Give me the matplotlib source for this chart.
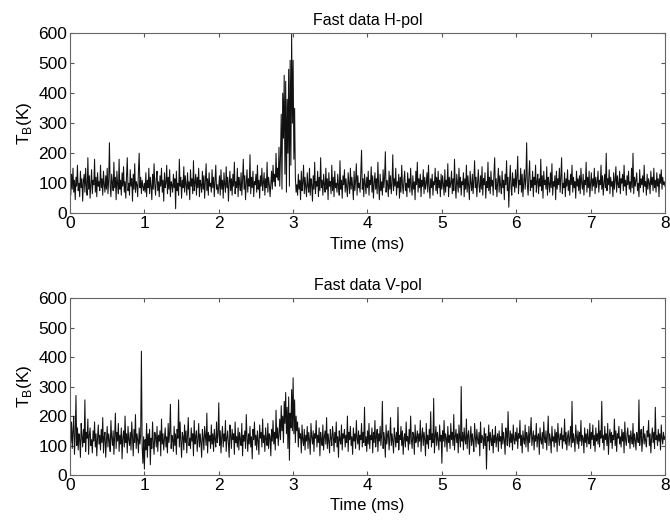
import matplotlib
matplotlib.use("Agg")
import matplotlib.pyplot as plt
import numpy as np

plt.rcParams["font.family"] = ["Liberation Sans", "DejaVu Sans"]
plt.rcParams["font.size"] = 10

# H-pol brightness temperature (K), one block per ms, 0.01 ms steps
h0 = [95, 60, 130, 80, 150, 70, 110, 45, 120, 90,
      160, 75, 100, 55, 140, 85, 115, 40, 105, 130,
      70, 150, 90, 60, 185, 80, 125, 50, 100, 145,
      65, 110, 95, 180, 70, 120, 55, 135, 90, 105,
      75, 160, 85, 115, 60, 140, 95, 70, 125, 80,
      150, 65, 110, 235, 90, 55, 130, 100, 75, 170,
      85, 120, 45, 140, 95, 65, 180, 80, 110, 60,
      135, 90, 155, 70, 105, 50, 125, 185, 75, 100,
      60, 145, 90, 115, 40, 130, 80, 165, 70, 105,
      95, 55, 140, 200, 85, 120, 65, 110, 90, 75]
h1 = [100, 70, 135, 55, 110, 85, 150, 65, 120, 90,
      45, 130, 80, 165, 95, 60, 115, 140, 75, 105,
      55, 125, 90, 150, 70, 110, 40, 135, 85, 100,
      160, 65, 120, 80, 145, 55, 105, 95, 70, 130,
      85, 115, 15, 140, 75, 100, 60, 180, 90, 120,
      50, 110, 85, 155, 70, 125, 95, 60, 135, 80,
      105, 45, 145, 90, 115, 65, 175, 75, 100, 130,
      60, 120, 85, 150, 55, 110, 95, 70, 140, 80,
      125, 50, 105, 165, 75, 115, 60, 135, 90, 100,
      70, 145, 85, 120, 55, 110, 160, 80, 95, 65]
h2 = [90, 125, 60, 145, 80, 110, 50, 135, 95, 70,
      155, 85, 120, 40, 100, 140, 75, 115, 60, 130,
      90, 170, 65, 105, 85, 150, 55, 120, 95, 75,
      135, 60, 110, 180, 80, 125, 45, 100, 145, 70,
      115, 90, 195, 65, 120, 85, 140, 55, 105, 95,
      130, 70, 160, 80, 110, 50, 125, 90, 150, 75,
      100, 135, 60, 115, 85, 170, 70, 120, 95, 55,
      95, 140, 80, 160, 105, 130, 90, 200, 120, 150,
      110, 220, 90, 190, 330, 80, 400, 250, 460, 130,
      440, 70, 380, 200, 480, 90, 510, 160, 600, 300]
h3 = [510, 180, 350, 120, 70, 95, 60, 130, 80, 110,
      45, 140, 75, 100, 160, 65, 120, 85, 55, 135,
      90, 70, 150, 60, 115, 95, 40, 125, 80, 170,
      65, 105, 90, 140, 55, 120, 75, 185, 85, 110,
      60, 130, 95, 70, 150, 80, 115, 45, 135, 90,
      105, 65, 160, 75, 120, 55, 140, 85, 100, 70,
      130, 90, 60, 175, 80, 110, 50, 125, 95, 145,
      70, 115, 85, 55, 135, 100, 65, 150, 80, 120,
      90, 45, 140, 75, 110, 165, 60, 125, 85, 100,
      70, 135, 210, 80, 115, 55, 130, 95, 65, 120]
h4 = [85, 140, 60, 110, 95, 155, 70, 125, 50, 100,
      135, 80, 115, 65, 170, 90, 45, 130, 75, 105,
      60, 145, 85, 120, 205, 70, 110, 95, 55, 140,
      80, 125, 65, 100, 195, 75, 115, 90, 150, 60,
      105, 85, 130, 50, 120, 70, 160, 95, 65, 110,
      140, 75, 100, 55, 135, 85, 115, 70, 150, 90,
      60, 125, 80, 105, 45, 140, 95, 170, 70, 115,
      85, 130, 55, 110, 90, 145, 65, 120, 80, 100,
      135, 70, 160, 90, 50, 115, 85, 130, 60, 105,
      95, 150, 75, 120, 65, 140, 85, 110, 55, 130]
h5 = [80, 125, 95, 60, 145, 70, 110, 90, 165, 55,
      120, 85, 100, 140, 65, 115, 75, 180, 90, 50,
      130, 100, 70, 150, 85, 120, 60, 105, 95, 135,
      55, 115, 80, 160, 70, 125, 90, 45, 140, 100,
      75, 130, 65, 110, 175, 85, 120, 55, 100, 145,
      90, 70, 125, 80, 155, 60, 115, 95, 135, 50,
      105, 85, 170, 75, 120, 65, 140, 90, 110, 60,
      130, 185, 80, 115, 55, 100, 150, 70, 125, 90,
      65, 140, 85, 110, 45, 130, 95, 175, 75, 120,
      20, 105, 160, 85, 60, 135, 90, 115, 70, 145]
h6 = [85, 120, 190, 65, 110, 95, 150, 70, 130, 55,
      100, 145, 80, 115, 235, 90, 60, 125, 175, 75,
      110, 85, 140, 55, 120, 95, 160, 70, 105, 130,
      65, 115, 90, 180, 75, 125, 50, 140, 95, 110,
      80, 155, 60, 120, 100, 70, 135, 85, 165, 60,
      105, 90, 125, 45, 140, 80, 115, 95, 150, 70,
      120, 185, 65, 100, 85, 135, 55, 115, 90, 145,
      75, 110, 60, 130, 95, 160, 70, 120, 85, 105,
      50, 140, 90, 115, 75, 125, 65, 150, 100, 80,
      130, 60, 110, 95, 170, 70, 120, 85, 140, 55]
h7 = [100, 135, 75, 115, 90, 150, 65, 120, 85, 105,
      140, 70, 110, 95, 160, 80, 125, 60, 100, 130,
      85, 200, 75, 115, 95, 145, 65, 120, 90, 105,
      55, 135, 80, 110, 155, 70, 125, 95, 85, 140,
      65, 115, 100, 130, 75, 160, 90, 110, 60, 125,
      95, 140, 80, 105, 70, 150, 85, 200, 65, 120,
      90, 110, 135, 75, 100, 55, 145, 85, 115, 95,
      125, 70, 160, 90, 105, 60, 130, 80, 115, 100,
      65, 140, 95, 120, 75, 150, 85, 110, 70, 135,
      90, 115, 55, 130, 100, 145, 80, 120, 95, 105, 90]

# V-pol brightness temperature (K)
v0 = [250, 110, 180, 90, 150, 200, 70, 135, 270, 100,
      160, 85, 140, 120, 60, 175, 130, 95, 155, 110,
      255, 80, 145, 125, 190, 70, 135, 160, 100, 120,
      75, 150, 115, 180, 95, 140, 65, 125, 170, 105,
      135, 85, 155, 110, 195, 75, 130, 145, 60, 120,
      165, 95, 140, 115, 80, 185, 125, 100, 150, 70,
      130, 210, 90, 145, 115, 175, 80, 135, 105, 160,
      55, 125, 150, 95, 200, 110, 140, 75, 165, 120,
      100, 145, 85, 180, 130, 65, 155, 110, 205, 90,
      140, 120, 75, 160, 105, 135, 420, 95, 40, 130]
v1 = [20, 120, 85, 175, 60, 140, 100, 155, 35, 125,
      90, 180, 110, 70, 145, 130, 95, 165, 80, 135,
      115, 150, 65, 190, 105, 140, 85, 125, 160, 95,
      130, 75, 175, 110, 145, 240, 90, 135, 120, 80,
      165, 100, 140, 70, 155, 125, 255, 95, 180, 115,
      60, 145, 130, 85, 170, 110, 150, 75, 135, 195,
      100, 125, 90, 160, 115, 140, 65, 185, 105, 130,
      150, 80, 120, 175, 95, 140, 110, 60, 155, 125,
      85, 165, 130, 100, 210, 75, 145, 115, 135, 90,
      170, 105, 140, 80, 155, 120, 95, 180, 110, 135]
v2 = [245, 100, 150, 75, 130, 165, 95, 140, 115, 185,
      80, 125, 150, 105, 60, 170, 135, 90, 155, 120,
      140, 70, 180, 110, 130, 95, 160, 85, 145, 120,
      100, 175, 65, 135, 115, 150, 90, 205, 125, 80,
      140, 105, 165, 95, 130, 55, 155, 120, 180, 100,
      135, 85, 150, 115, 70, 170, 125, 145, 95, 190,
      110, 135, 80, 160, 120, 100, 175, 90, 140, 130,
      65, 155, 115, 185, 105, 145, 85, 220, 125, 160,
      100, 140, 190, 120, 235, 150, 200, 110, 250, 175,
      280, 140, 230, 90, 265, 50, 210, 160, 290, 150]
v3 = [330, 140, 255, 110, 200, 150, 180, 95, 160, 125,
      140, 75, 170, 120, 100, 155, 85, 135, 115, 165,
      90, 145, 120, 70, 175, 130, 105, 150, 80, 140,
      125, 185, 95, 135, 110, 160, 65, 145, 120, 100,
      170, 85, 130, 150, 105, 195, 90, 140, 115, 75,
      155, 125, 100, 165, 135, 80, 145, 110, 180, 95,
      130, 60, 150, 120, 105, 170, 85, 140, 125, 155,
      95, 135, 110, 200, 80, 145, 120, 165, 100, 130,
      70, 160, 115, 140, 90, 185, 125, 105, 150, 85,
      135, 120, 175, 95, 145, 110, 230, 100, 130, 80]
v4 = [150, 105, 175, 90, 135, 120, 160, 75, 145, 110,
      185, 95, 130, 155, 80, 140, 115, 165, 100, 135,
      250, 90, 145, 120, 60, 170, 105, 135, 150, 85,
      125, 195, 100, 140, 115, 75, 160, 130, 95, 145,
      110, 230, 85, 135, 120, 165, 100, 150, 70, 125,
      140, 95, 180, 115, 130, 85, 155, 105, 200, 120,
      90, 145, 135, 70, 170, 110, 125, 150, 95, 140,
      115, 185, 80, 130, 160, 100, 145, 120, 65, 175,
      105, 135, 90, 155, 120, 215, 95, 140, 110, 260,
      75, 130, 165, 100, 145, 120, 85, 170, 115, 135]
v5 = [40, 150, 115, 185, 95, 140, 125, 80, 165, 110,
      135, 90, 175, 120, 145, 100, 205, 85, 130, 155,
      110, 140, 75, 170, 125, 95, 300, 115, 145, 85,
      160, 120, 105, 190, 90, 135, 150, 70, 125, 165,
      100, 140, 115, 80, 175, 130, 95, 155, 120, 105,
      145, 65, 180, 110, 135, 125, 90, 160, 100, 140,
      20, 130, 115, 170, 85, 145, 120, 100, 155, 75,
      135, 110, 165, 95, 125, 140, 80, 150, 115, 130,
      90, 175, 105, 145, 120, 70, 160, 135, 100, 215,
      125, 95, 150, 110, 140, 85, 170, 120, 105, 145]
v6 = [115, 160, 90, 140, 125, 185, 100, 135, 75, 150,
      120, 105, 170, 95, 145, 130, 80, 165, 110, 140,
      195, 100, 125, 150, 85, 135, 115, 175, 95, 130,
      140, 70, 160, 120, 105, 145, 90, 180, 125, 110,
      150, 85, 135, 200, 100, 140, 120, 75, 165, 115,
      130, 95, 155, 110, 145, 80, 175, 125, 100, 140,
      120, 160, 90, 135, 115, 190, 105, 145, 85, 130,
      150, 100, 125, 165, 95, 250, 110, 140, 120, 80,
      170, 130, 105, 150, 90, 145, 115, 185, 100, 135,
      125, 75, 160, 110, 140, 95, 155, 120, 105, 175]
v7 = [90, 145, 120, 170, 100, 135, 80, 160, 115, 140,
      105, 185, 95, 150, 125, 250, 110, 135, 85, 165,
      120, 140, 100, 175, 70, 130, 155, 110, 145, 90,
      135, 120, 190, 100, 150, 80, 140, 125, 165, 105,
      130, 95, 155, 115, 145, 75, 180, 120, 100, 140,
      160, 110, 135, 90, 150, 125, 105, 175, 95, 140,
      120, 85, 145, 130, 110, 255, 100, 135, 155, 80,
      125, 165, 105, 140, 115, 95, 150, 130, 185, 100,
      140, 75, 125, 160, 110, 145, 90, 230, 120, 135,
      100, 155, 115, 140, 85, 170, 125, 105, 145, 120, 130]

hpol = np.array(h0 + h1 + h2 + h3 + h4 + h5 + h6 + h7)
vpol = np.array(v0 + v1 + v2 + v3 + v4 + v5 + v6 + v7)
t_h = np.linspace(0, 8, len(hpol))
t_v = np.linspace(0, 8, len(vpol))

fig = plt.figure(figsize=(6.7, 5.2), dpi=100)
ax1 = fig.add_axes([0.1045, 0.590, 0.888, 0.346])
ax2 = fig.add_axes([0.1045, 0.0865, 0.888, 0.340])

for ax, t, y, title in [(ax1, t_h, hpol, "Fast data H-pol"),
                        (ax2, t_v, vpol, "Fast data V-pol")]:
    ax.plot(t, y, color="#111111", lw=0.75)
    ax.set_xlim(0, 8)
    ax.set_ylim(0, 600)
    ax.set_xticks(range(0, 9))
    ax.set_yticks(range(0, 601, 100))
    ax.tick_params(direction="in", top=True, right=True, labelsize=12.5,
                   length=3, color="#555555", pad=2)
    for s in ax.spines.values():
        s.set_color("#666666")
        s.set_linewidth(0.8)
    ax.set_title(title, fontsize=11.5, pad=6)
    ax.set_xlabel("Time (ms)", fontsize=12, labelpad=4)
    ax.set_ylabel(r"T$_{\mathregular{B}}$(K)", fontsize=12.5, labelpad=3)

fig.savefig("out.png", dpi=100)
